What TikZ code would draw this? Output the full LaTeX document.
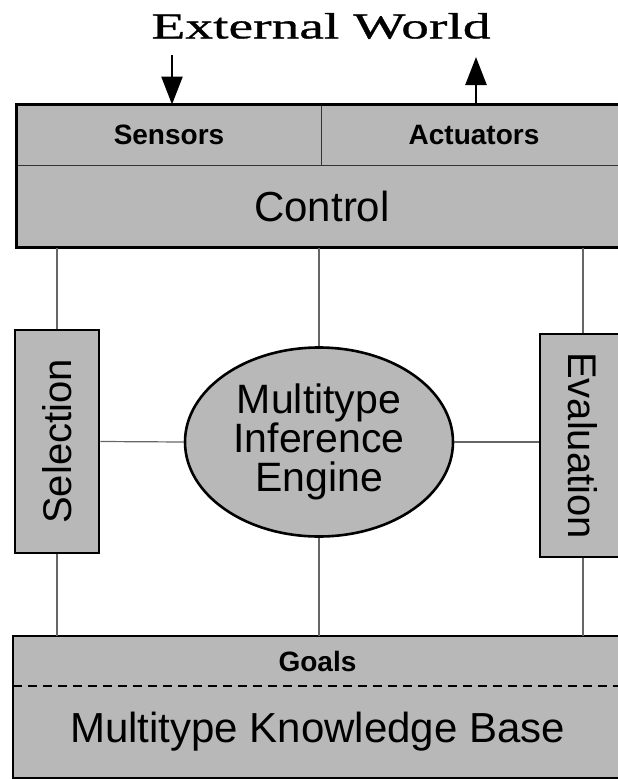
\documentclass[tikz,border=0pt]{standalone}
\usepackage{fontspec}
\setmainfont{Liberation Sans}
\newfontfamily\worldfont[FakeStretch=1.52,FakeBold=0.8]{Liberation Serif}
\usepackage{tikz}
\usetikzlibrary{arrows.meta,shapes.geometric,calc}

\begin{document}
\begin{tikzpicture}[
  x=1pt,y=-1pt,
  every node/.style={align=center,inner sep=0pt},
  cell/.style={draw=black!80,line width=1pt,fill=black!28},
  block/.style={draw=black,line width=2.6pt},
  io/.style={-{Triangle[length=28pt,width=21pt]},line width=2.6pt},
  link/.style={draw=black!60,line width=1.2pt},
  big/.style={font=\fontsize{42}{40}\selectfont},
  small/.style={font=\fontsize{28}{28}\selectfont\bfseries}
]
  \useasboundingbox (0,0) rectangle (618,779);

  \node[font=\worldfont\fontsize{36.5}{36.5}\selectfont] (world) at (321,26) {External World};

  % control block with its sensor and actuator cells
  \node[cell,small,minimum width=304pt,minimum height=60pt] (sens) at (169,135) {Sensors};
  \node[cell,small,minimum width=306pt,minimum height=60pt] (act) at (474,135) {Actuators};
  \node[cell,big,minimum width=610pt,minimum height=82pt] (ctl) at (322,206) {Control};
  \draw[block] (sens.north west) rectangle (ctl.south east);

  \coordinate (sensin) at (172,55);
  \coordinate (actout) at (476,57);
  \draw[io] (sensin) -- (sensin |- sens.north);
  \draw[io] (actout |- act.north) -- (actout);

  % middle row
  \node[cell,block,minimum width=84pt,minimum height=223pt,
    label={[rotate=90,font=\fontsize{40}{40}\selectfont]center:Selection}] (sel) at (57,441.5) {};
  \node[cell,block,ellipse,minimum width=268pt,minimum height=189pt,
    font=\fontsize{41}{39}\selectfont] (eng) at (319,442) {Multitype\\Inference\\Engine};
  \node[cell,block,minimum width=86pt,minimum height=223pt,
    label={[rotate=-90,font=\fontsize{40}{40}\selectfont]center:Evaluation}] (eva) at (583,445.5) {};

  % knowledge base with the goals on top
  \node[fill=black!28,small,minimum width=609pt,minimum height=50pt] (goals) at (317.5,661) {Goals};
  \node[fill=black!28,big,minimum width=609pt,minimum height=92pt] (kb) at (317.5,732) {Multitype Knowledge Base};
  \draw[line width=2.4pt,dash pattern=on 9pt off 6pt] (goals.south west) -- (goals.south east);
  \draw[block] (goals.north west) rectangle (kb.south east);

  \draw[link] (sel.north) -- (sel.north |- ctl.south);
  \draw[link] (eng.north) -- (eng.north |- ctl.south);
  \draw[link] (eva.north) -- (eva.north |- ctl.south);
  \draw[link] (sel.south) -- (sel.south |- goals.north);
  \draw[link] (eng.south) -- (eng.south |- goals.north);
  \draw[link] (eva.south) -- (eva.south |- goals.north);
  \draw[link] (sel.east) -- (eng.west);
  \draw[link] (eng.east) -- (eng.east -| eva.west);
\end{tikzpicture}
\end{document}
